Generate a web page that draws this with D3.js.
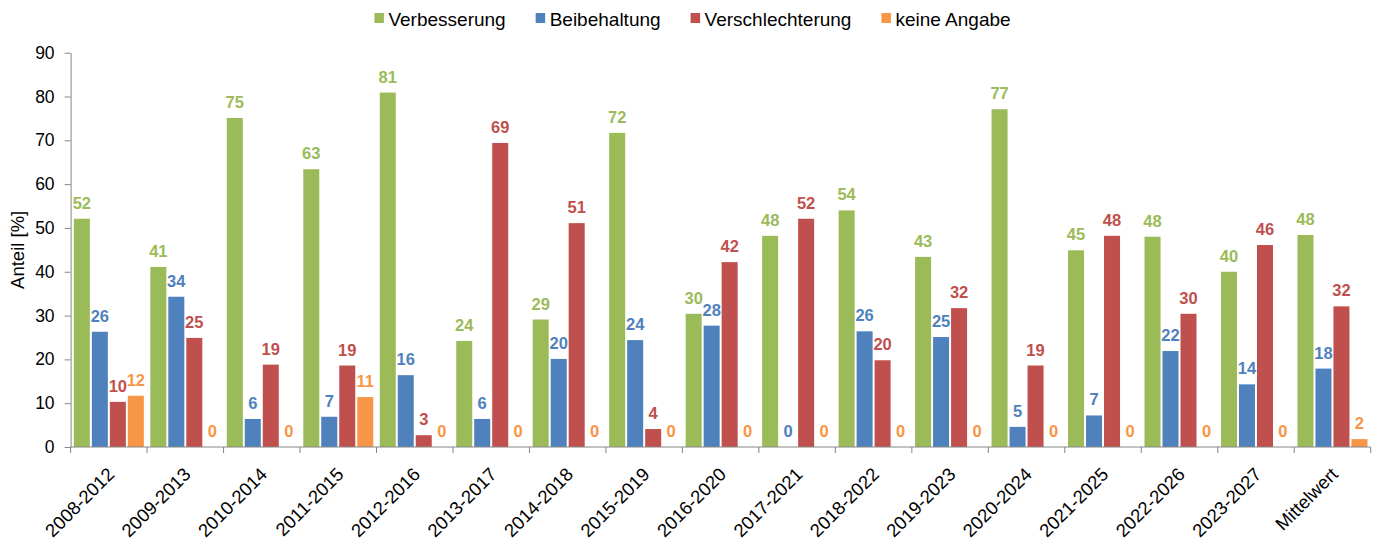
<!DOCTYPE html>
<html lang="de">
<head>
    <meta charset="UTF-8">
    <title>Anteil</title>
    <style>
        body { margin: 0; background: #fff; }
        text { font-family: "Liberation Sans", Arial, sans-serif; }
    </style>
</head>
<body>
    <svg id="chart"></svg>

    <script src="https://cdn.jsdelivr.net/npm/d3@7"></script>
    <script>
        const categories = ['2008-2012', '2009-2013', '2010-2014', '2011-2015', '2012-2016', '2013-2017',
            '2014-2018', '2015-2019', '2016-2020', '2017-2021', '2018-2022', '2019-2023', '2020-2024',
            '2021-2025', '2022-2026', '2023-2027', 'Mittelwert'];
        const seriesNames = ['Verbesserung', 'Beibehaltung', 'Verschlechterung', 'keine Angabe'];
        const verbesserung = [52.1, 41.1, 75.1, 63.4, 80.9, 24.2, 29.1, 71.7, 30.4, 48.2, 54.0, 43.4, 77.1, 44.9, 48.0, 40.0, 48.4];
        const beibehaltung = [26.3, 34.3, 6.4, 6.9, 16.4, 6.4, 20.1, 24.4, 27.7, 0, 26.4, 25.1, 4.6, 7.2, 21.9, 14.3, 17.9];
        const verschlechterung = [10.3, 24.9, 18.8, 18.6, 2.7, 69.4, 51.1, 4.1, 42.2, 52.1, 19.8, 31.7, 18.6, 48.2, 30.4, 46.1, 32.1];
        const keineAngabe = [11.7, 0, 0, 11.4, 0, 0, 0, 0, 0, 0, 0, 0, 0, 0, 0, 0, 1.8];
        const yTicks = [0, 10, 20, 30, 40, 50, 60, 70, 80, 90];

        const colors = ['#9bbb59', '#4f81bd', '#c0504d', '#f79646'];
        const allSeries = [verbesserung, beibehaltung, verschlechterung, keineAngabe];

        const width = 1385, height = 540;
        const margin = { top: 52.7, right: 14.3, bottom: 93, left: 70.6 };

        const svg = d3.select('#chart').attr('width', width).attr('height', height);

        const x0 = d3.scaleBand()
            .domain(categories)
            .range([margin.left, width - margin.right])
            .padding(0);

        const x1 = d3.scaleBand()
            .domain(seriesNames)
            .range([0, x0.bandwidth()])
            .paddingInner(0.11)
            .paddingOuter(0.18);

        const y = d3.scaleLinear()
            .domain([0, 90])
            .range([height - margin.bottom, margin.top]);

        const rows = categories.map((c, i) => ({
            cat: c,
            vals: seriesNames.map((s, k) => ({ key: s, value: allSeries[k][i], color: colors[k] }))
        }));

        // bars
        const groups = svg.append('g')
            .selectAll('g')
            .data(rows)
            .join('g')
            .attr('transform', d => `translate(${x0(d.cat)},0)`);

        groups.selectAll('rect')
            .data(d => d.vals)
            .join('rect')
            .attr('x', d => x1(d.key))
            .attr('width', x1.bandwidth())
            .attr('y', d => y(d.value))
            .attr('height', d => y(0) - y(d.value))
            .attr('fill', d => d.color);

        groups.selectAll('text')
            .data(d => d.vals)
            .join('text')
            .attr('x', d => x1(d.key) + x1.bandwidth() / 2)
            .attr('y', d => y(d.value) - 10)
            .attr('text-anchor', 'middle')
            .attr('font-size', 16.5)
            .attr('font-weight', 'bold')
            .attr('fill', d => d.color)
            .text(d => Math.round(d.value));

        // y axis
        const axisColor = '#868686';
        const yAxis = svg.append('g')
            .attr('transform', `translate(${margin.left},0)`)
            .call(d3.axisLeft(y).tickValues(yTicks).tickSize(6).tickSizeOuter(0).tickPadding(10));
        yAxis.select('.domain').attr('stroke', axisColor);
        yAxis.selectAll('.tick line').attr('stroke', axisColor);
        yAxis.selectAll('.tick text')
            .attr('fill', '#000')
            .attr('font-size', 17.5)
            .attr('font-family', '"Liberation Sans", Arial, sans-serif');

        svg.append('text')
            .attr('transform', `translate(24,${(y(0) + y(90)) / 2}) rotate(-90)`)
            .attr('text-anchor', 'middle')
            .attr('font-size', 18.5)
            .text('Anteil [%]');

        // x axis
        const xAxis = svg.append('g');
        xAxis.append('line')
            .attr('x1', x0.range()[0]).attr('x2', x0.range()[1])
            .attr('y1', y(0)).attr('y2', y(0))
            .attr('stroke', axisColor);
        const bounds = categories.map(c => x0(c)).concat([x0.range()[1]]);
        xAxis.selectAll('.xt')
            .data(bounds)
            .join('line')
            .attr('class', 'xt')
            .attr('x1', d => d).attr('x2', d => d)
            .attr('y1', y(0)).attr('y2', y(0) + 6)
            .attr('stroke', axisColor);
        xAxis.selectAll('.xl')
            .data(categories)
            .join('text')
            .attr('class', 'xl')
            .attr('transform', d => `translate(${x0(d) + x0.bandwidth() / 2 + 2},${y(0) + 24}) rotate(-45)`)
            .attr('text-anchor', 'end')
            .attr('dy', '0.35em')
            .attr('font-size', 18.5)
            .text(d => d);

        // legend
        const legend = svg.append('g');
        let lx = 0;
        seriesNames.forEach((s, k) => {
            const item = legend.append('g').attr('transform', `translate(${lx},0)`);
            item.append('rect')
                .attr('x', 0).attr('y', 13)
                .attr('width', 9.5).attr('height', 10)
                .attr('fill', colors[k]);
            const t = item.append('text')
                .attr('x', 14).attr('y', 25.5)
                .attr('font-size', 19)
                .text(s);
            lx += 14 + t.node().getComputedTextLength() + 30;
        });
        const legendW = lx - 30;
        legend.attr('transform', `translate(${(width - legendW) / 2},0)`);
    </script>
</body>
</html>
